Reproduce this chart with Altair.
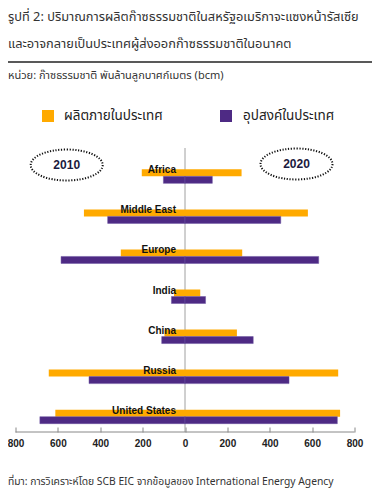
import altair as alt
import pandas as pd

regions = ["Africa", "Middle East", "Europe", "India", "China", "Russia", "United States"]
prod_2010 = [204, 477, 303, 52, 97, 643, 612]
dem_2010 = [102, 365, 585, 64, 110, 453, 685]
prod_2020 = [267, 580, 270, 72, 245, 723, 732]
dem_2020 = [129, 452, 631, 97, 322, 491, 719]
ticks = [-800, -600, -400, -200, 0, 200, 400, 600, 800]
series_names = ["ผลิตภายในประเทศ", "อุปสงค์ในประเทศ"]
years = ["2010", "2020"]

title1 = "รูปที่ 2: ปริมาณการผลิตก๊าซธรรมชาติในสหรัฐอเมริกาจะแซงหน้ารัสเซีย"
title2 = "และอาจกลายเป็นประเทศผู้ส่งออกก๊าซธรรมชาติในอนาคต"
unit = "หน่วย: ก๊าซธรรมชาติ พันล้านลูกบาศก์เมตร (bcm)"
source = "ที่มา: การวิเคราะห์โดย SCB EIC จากข้อมูลของ International Energy Agency"

ORANGE = "#FFAA00"
PURPLE = "#4E2A84"
THAI = "Tahoma, 'Noto Sans Thai', 'Noto Sans', sans-serif"
LAT = "'Liberation Sans', Arial, sans-serif"

# layout (page pixels of the reference)
PAD_L, PAD_T = 7.5, 140
W, H = 339, 279


def rx(x):
    return x - 8 - PAD_L


def ry(y):
    return y - 8 - PAD_T


rows = []
for i, r in enumerate(regions):
    rows.append({"region": r, "series": "prod", "value": -prod_2010[i]})
    rows.append({"region": r, "series": "prod", "value": prod_2020[i]})
    rows.append({"region": r, "series": "dem", "value": -dem_2010[i]})
    rows.append({"region": r, "series": "dem", "value": dem_2020[i]})
df = pd.DataFrame(rows)
df_prod = df[df.series == "prod"]
df_dem = df[df.series == "dem"]
df_reg = pd.DataFrame({"region": regions})

xscale = alt.Scale(domain=[-800, 800])
yscale = alt.Scale(domain=regions, range=[8.3, 288.7], paddingInner=0, paddingOuter=0)

xaxis = alt.Axis(values=ticks, labelExpr="abs(datum.value)", domain=False, grid=False,
                 tickSize=5, tickColor="#888888", tickWidth=1,
                 labelFont=LAT, labelFontWeight="bold", labelFontSize=10, labelColor="#222222",
                 labelPadding=6, labelFlush=False, labelOverlap=False, title=None)

bar_prod = alt.Chart(df_prod).mark_bar(size=7, yOffset=-3.5, color=ORANGE).encode(
    x=alt.X("value:Q", scale=xscale, axis=xaxis, stack=None),
    y=alt.Y("region:N", scale=yscale, sort=regions, axis=None),
)
bar_dem = alt.Chart(df_dem).mark_bar(size=7, yOffset=3.5, color=PURPLE, stroke="#6A52A0", strokeWidth=0.5).encode(
    x=alt.X("value:Q", scale=xscale, stack=None),
    y=alt.Y("region:N", scale=yscale, sort=regions),
)
labels = alt.Chart(df_reg).mark_text(align="right", baseline="alphabetic", dy=-3,
                                     font=LAT, fontWeight="bold", fontSize=10, color="#111111").encode(
    x=alt.value(rx(176)),
    y=alt.Y("region:N", scale=yscale, sort=regions),
    text="region:N",
)

one = pd.DataFrame({"a": [0]})
center = alt.Chart(one).mark_rule(color="#A0A0A0", strokeWidth=1).encode(
    x=alt.datum(0), y=alt.value(0), y2=alt.value(H + 5))
domain_line = alt.Chart(one).mark_rule(color="#888888", strokeWidth=1).encode(
    x=alt.datum(-800), x2=alt.datum(800), y=alt.value(H + 5))

ell_path = "M-1,0 A1,0.43 0 1,1 1,0 A1,0.43 0 1,1 -1,0 Z"
df_years = pd.DataFrame({"year": years})


def ellipse(year, cx, cy):
    d = df_years[df_years.year == year]
    e = alt.Chart(d).mark_point(
        shape=ell_path, size=5184, filled=False, stroke="#111111", strokeWidth=2,
        strokeDash=[1.2, 1.6], opacity=1).encode(x=alt.value(rx(cx)), y=alt.value(ry(cy)))
    t = alt.Chart(d).mark_text(
        font=LAT, fontWeight="bold", fontSize=12, color="#1a1a40", baseline="middle").encode(
        x=alt.value(rx(cx)), y=alt.value(ry(cy)), text="year:N")
    return e + t


def txt(s, x, y, size, color="#333333"):
    return alt.Chart(one).mark_text(align="left", baseline="middle", font=THAI,
                                    fontSize=size, color=color).encode(
        x=alt.value(rx(x)), y=alt.value(ry(y)), text=alt.value(s))


t1 = txt(title1, 8, 17, 12.8)
t2 = txt(title2, 8, 44, 12.8)
hline = alt.Chart(one).mark_rule(color="#222222", strokeWidth=1.5).encode(
    x=alt.value(rx(8)), x2=alt.value(rx(372)), y=alt.value(ry(62)))
tu = txt(unit, 8, 76, 11)
tsrc = txt(source, 8, 482, 10.3)

leg_sq1 = alt.Chart(one).mark_square(size=144, color=ORANGE, opacity=1).encode(
    x=alt.value(rx(48)), y=alt.value(ry(116)))
leg_sq2 = alt.Chart(one).mark_square(size=144, color=PURPLE, opacity=1).encode(
    x=alt.value(rx(226)), y=alt.value(ry(116)))
leg_t1 = txt(series_names[0], 64, 116, 13.5, "#222222")
leg_t2 = txt(series_names[1], 243, 116, 13.5, "#222222")

chart = alt.layer(
    center, bar_prod, bar_dem, labels, domain_line,
    ellipse("2010", 66.7, 165), ellipse("2020", 296.5, 164),
    t1, t2, hline, tu, tsrc, leg_sq1, leg_sq2, leg_t1, leg_t2,
).properties(
    width=W, height=H,
    background="white",
    autosize=alt.AutoSizeParams(type="none"),
    padding={"left": PAD_L, "top": PAD_T, "right": 364 - PAD_L - W, "bottom": 484 - PAD_T - H},
).configure_view(stroke=None)

chart.save("out.html", embed_options={"renderer": "svg", "actions": False})
